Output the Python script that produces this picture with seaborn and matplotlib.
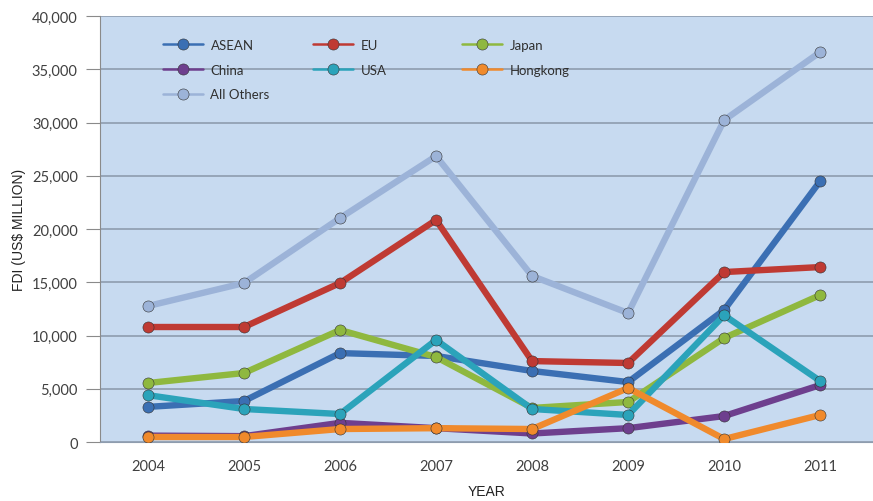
import pandas as pd
import numpy as np
import matplotlib.pyplot as plt
import seaborn as sns

# FDI by source (US$ million)
years = [2004, 2005, 2006, 2007, 2008, 2009, 2010, 2011]
asean = [3300, 3850, 8350, 8080, 6670, 5630, 12400, 24500]
eu = [10800, 10800, 14930, 20850, 7600, 7420, 15960, 16430]
japan = [5540, 6480, 10520, 7980, 3200, 3760, 9770, 13800]
china = [600, 550, 1800, 1300, 800, 1300, 2440, 5350]
usa = [4400, 3100, 2630, 9580, 3100, 2540, 11900, 5730]
hongkong = [470, 470, 1220, 1300, 1220, 5070, 280, 2540]
all_others = [12770, 14930, 21030, 26850, 15590, 12110, 30230, 36620]

series = ["ASEAN", "EU", "Japan", "China", "USA", "Hongkong", "All Others"]
values = [asean, eu, japan, china, usa, hongkong, all_others]
colors = ["#3b6fb3", "#bf3a33", "#8fb83f", "#6e3f8e", "#2ba3ba", "#f08a2c", "#9cb3d8"]

df = pd.DataFrame({
    "year": years * len(series),
    "fdi": np.concatenate(values),
    "source": np.repeat(series, len(years)),
})

sns.set_style("white")
tick_font = "Lato"
fig = plt.figure(figsize=(8.73, 5.02), dpi=100)
ax = fig.add_axes([0.1145, 0.1175, 0.8855, 0.8485])
ax.set_facecolor("#c7daf0")

for name, col in zip(series, colors):
    sub = df[df["source"] == name]
    z = 2 if name == "All Others" else 3
    sns.lineplot(data=sub, x="year", y="fdi", color=col, linewidth=4.6,
                 marker="o", markersize=8, markeredgecolor="#333333",
                 markeredgewidth=0.4, markerfacecolor=col, ax=ax, zorder=z,
                 legend=False)

ax.set_ylim(0, 40000)
ax.set_xlim(2003.5, 2011.55)
ax.set_yticks(range(0, 40001, 5000))
ax.set_yticklabels([f"{v:,}" for v in range(0, 40001, 5000)],
                   fontsize=10.5, color="#404040", family=tick_font)
ax.set_xticks(years)
ax.set_xticklabels([str(y) for y in years], fontsize=10.5, color="#404040",
                   family=tick_font)
ax.set_xticks([y + 0.5 for y in years[:-1]], minor=True)
ax.tick_params(axis="x", which="major", length=0, pad=12)
ax.tick_params(axis="x", which="minor", length=6, direction="out", color="#8a8a8a")
ax.tick_params(axis="y", length=10, direction="out", color="#8a8a8a", left=True, pad=6)
ax.grid(axis="y", color="#8e9cae", linewidth=1.2)
ax.set_axisbelow(True)
for s in ["top", "right"]:
    ax.spines[s].set_visible(False)
ax.spines["left"].set_color("#8a8a8a")
ax.spines["bottom"].set_color("#8e9cae")

ax.set_xlabel("YEAR", fontsize=10, color="#222222", labelpad=8,
              family="Liberation Sans")
ax.set_ylabel("FDI (US$ MILLION)", fontsize=10, color="#222222", labelpad=4,
              family="Liberation Sans")

# legend laid out like the Excel one: three fixed-width columns
handles = {}
for name, col in zip(series, colors):
    handles[name] = plt.Line2D([], [], color=col, linewidth=1.8, marker="o",
                               markersize=8, markerfacecolor=col,
                               markeredgecolor="#333333", markeredgewidth=0.4)
columns = [["ASEAN", "China", "All Others"], ["EU", "USA"], ["Japan", "Hongkong"]]
col_x = [163, 313, 462]
for names, px in zip(columns, col_x):
    leg = ax.legend([handles[n] for n in names], names, loc="upper left",
                    bbox_to_anchor=((px - 100) / 773, 1 - 23 / 426),
                    frameon=False, borderpad=0, borderaxespad=0,
                    handlelength=3.0, handletextpad=0.6, labelspacing=0.95,
                    prop={"family": tick_font, "size": 9.5})
    for t in leg.get_texts():
        t.set_color("#303030")
    ax.add_artist(leg)
ax.legend_ = None

fig.savefig("out.png", dpi=100)
